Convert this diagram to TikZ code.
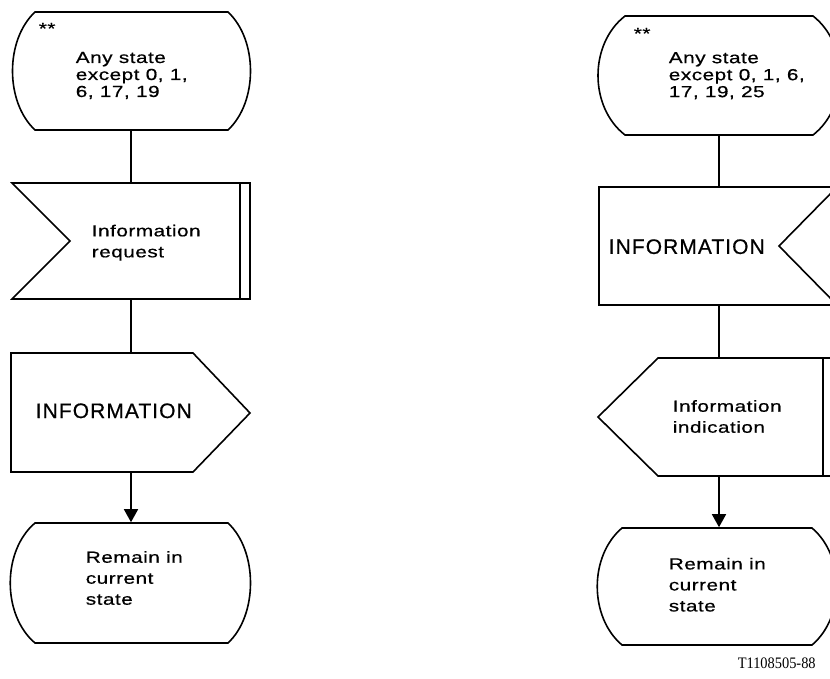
\documentclass[tikz,border=0pt]{standalone}
\usepackage{fontspec}
\setmainfont{Liberation Sans}[FakeStretch=1.3,LetterSpace=3,FakeBold=0.6]
\newfontfamily\capsfont{Liberation Sans}[LetterSpace=5,FakeBold=0.6]
\newfontfamily\codefont{Liberation Serif}[FakeStretch=0.9]
\usetikzlibrary{arrows.meta}

\begin{document}
\begin{tikzpicture}[x=1pt, y=-1pt, line width=1.6pt, >={Triangle[length=13pt,width=14pt]},
    sdlbox/.style={inner sep=0pt, minimum width=238pt, minimum height=#1},
    txt/.style={anchor=west, align=left, inner sep=0pt, font=\fontsize{16}{21}\selectfont},
    tight/.style={font=\fontsize{16}{17}\selectfont},
    caps/.style={anchor=west, inner sep=0pt, font=\capsfont\fontsize{21}{25}\selectfont}]
    % 1. Page frame (right column is cut at the edge)
    \useasboundingbox (0,0) rectangle (830,679);
    \clip (0,0) rectangle (830,679);

    % 2. Left column: frames
    \node[sdlbox=118] (st1) at (131,71) {};
    \node[sdlbox=116] (req) at (131,241) {};
    \node[sdlbox=119] (info1) at (131,412.5) {};
    \node[sdlbox=120] (rem1) at (131,583) {};

    % State "any state"
    \draw (35,12) -- (228,12) .. controls (258,40) and (258,102) .. (228,130)
        -- (35,130) .. controls (5,102) and (5,40) .. (35,12) -- cycle;
    % Input with double bar
    \draw (12,183) -- (250,183) -- (250,299) -- (12,299) -- (70,241) -- cycle;
    \draw (240,183) -- (240,299);
    % Output to the right
    \draw (11,353) -- (193,353) -- (250,413) -- (193,472) -- (11,472) -- cycle;
    % State "remain"
    \draw (35,523) -- (228,523) .. controls (258,551) and (258,615) .. (228,643)
        -- (35,643) .. controls (2,615) and (2,551) .. (35,523) -- cycle;

    % 3. Right column: frames
    \node[sdlbox=119] (st2) at (719,75.5) {};
    \node[sdlbox=118] (info2) at (719,246) {};
    \node[sdlbox=118] (ind) at (719,417) {};
    \node[sdlbox=117] (rem2) at (719,586.5) {};

    % State "any state"
    \draw (625,16) -- (813,16) .. controls (849,44) and (849,107) .. (813,135)
        -- (625,135) .. controls (589,107) and (589,44) .. (625,16) -- cycle;
    % Input from the right
    \draw (599,187) -- (837,187) -- (779,246) -- (837,305) -- (599,305) -- cycle;
    % Output to the left with double bar
    \draw (658,358) -- (836,358) -- (836,476) -- (658,476) -- (598,417) -- cycle;
    \draw (823,358) -- (823,476);
    % State "remain"
    \draw (622,528) -- (812,528) .. controls (845,556) and (845,617) .. (812,645)
        -- (622,645) .. controls (589,617) and (589,556) .. (622,528) -- cycle;

    % 4. Connectors
    \draw (st1.south) -- (req.north);
    \draw (req.south) -- (info1.north);
    \draw[->] (info1.south) -- (rem1.north);
    \draw (st2.south) -- (info2.north);
    \draw (info2.south) -- (ind.north);
    \draw[->] (ind.south) -- (rem2.north);

    % 5. Texts
    \node[txt, anchor=base west] (star1) at (38,34) {**};
    \node[txt, tight] (t-st1) at (75,75.5) {Any state\\except 0, 1,\\6, 17, 19};
    \node[txt] (t-req) at (91,242.7) {Information\\request};
    \node[caps] (t-info1) at (35,410.8) {INFORMATION};
    \node[txt] (t-rem1) at (85,578) {Remain in\\current\\state};

    \node[txt, anchor=base west] (star2) at (633,39) {**};
    \node[txt, tight] (t-st2) at (668,75.7) {Any state\\except 0, 1, 6,\\17, 19, 25};
    \node[caps] (t-info2) at (608,246.7) {INFORMATION};
    \node[txt] (t-ind) at (672,416.5) {Information\\indication};
    \node[txt] (t-rem2) at (668,584.7) {Remain in\\current\\state};

    \node[anchor=base west, inner sep=0pt, font=\codefont\fontsize{16}{19}\selectfont] (code) at (737,668) {T1108505-88};
\end{tikzpicture}
\end{document}
